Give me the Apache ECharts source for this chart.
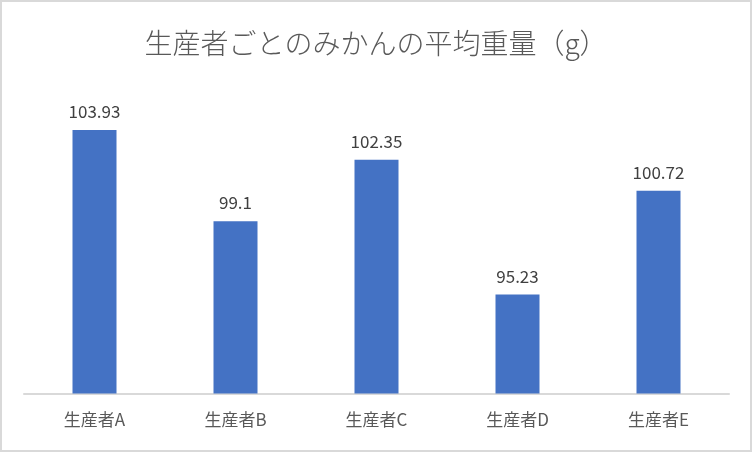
<!DOCTYPE html>
<html><head><meta charset="utf-8">
<script src="https://cdn.jsdelivr.net/npm/echarts@6/dist/echarts.min.js"></script>
<style>
html,body{margin:0;padding:0;background:#fff;}
#c{width:752px;height:452px;box-sizing:border-box;border:2px solid #d9d9d9;}
</style></head><body>
<div id="c"></div>
<script>
const categories = ['生産者A','生産者B','生産者C','生産者D','生産者E'];
const values = [103.93, 99.1, 102.35, 95.23, 100.72];
const titleText = '生産者ごとのみかんの平均重量（g）';

const chart = echarts.init(document.getElementById('c'), null, {renderer:'canvas'});
chart.setOption({
  animation:false,
  title:{text:titleText,left:'center',top:22,textStyle:{fontFamily:'Noto Sans CJK JP',fontSize:28,fontWeight:300,color:'#595959'}},
  grid:{left:22,right:21,top:88.8,bottom:56.5},
  xAxis:{type:'category',data:categories,
    axisLine:{lineStyle:{color:'#d9d9d9',width:2}},axisTick:{show:false},
    axisLabel:{fontFamily:'Noto Sans CJK JP',fontSize:17,color:'#595959',margin:18}},
  yAxis:{type:'value',min:90,max:106,interval:2,show:false,splitLine:{show:false}},
  series:[{type:'bar',data:values,barWidth:44,itemStyle:{color:'#4472c4'},
    label:{show:true,position:'top',distance:10,fontFamily:'Noto Sans CJK JP',fontSize:17,color:'#404040'}}]
});
</script></body></html>
